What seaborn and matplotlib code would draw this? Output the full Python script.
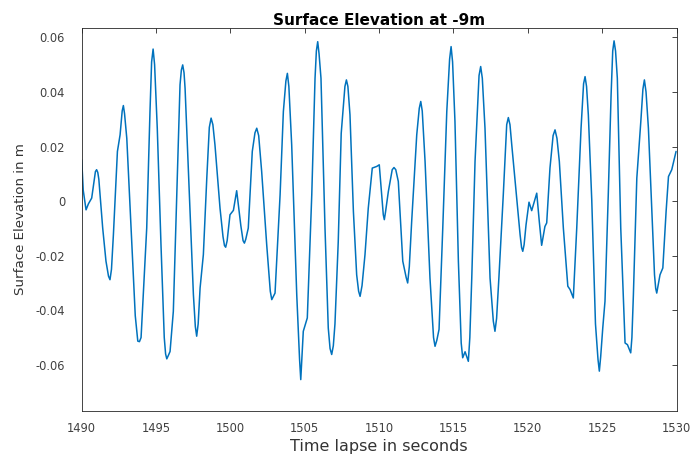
import numpy as np
import pandas as pd
import matplotlib
matplotlib.use("Agg")
import matplotlib.pyplot as plt
import seaborn as sns

time_s = [
    1490.00, 1490.10, 1490.29, 1490.45, 1490.67, 1490.85, 1490.92, 1491.00, 1491.08, 1491.15,
    1491.41, 1491.63, 1491.80, 1491.90, 1492.00, 1492.13, 1492.40, 1492.58, 1492.72, 1492.80,
    1492.88, 1493.03, 1493.36, 1493.60, 1493.77, 1493.88, 1493.99, 1494.37, 1494.59, 1494.70,
    1494.80, 1494.90, 1495.08, 1495.33, 1495.55, 1495.64, 1495.72, 1495.83, 1495.94, 1496.16,
    1496.39, 1496.61, 1496.70, 1496.79, 1496.88, 1496.95, 1497.22, 1497.51, 1497.64, 1497.73,
    1497.83, 1497.96, 1498.18, 1498.41, 1498.58, 1498.70, 1498.82, 1498.96, 1499.30, 1499.50,
    1499.60, 1499.68, 1499.78, 1499.97, 1500.20, 1500.42, 1500.70, 1500.85, 1500.94, 1501.03,
    1501.20, 1501.47, 1501.65, 1501.77, 1501.90, 1502.10, 1502.44, 1502.68, 1502.78, 1503.00,
    1503.34, 1503.56, 1503.73, 1503.83, 1503.93, 1504.12, 1504.46, 1504.65, 1504.73, 1504.90,
    1505.17, 1505.47, 1505.69, 1505.78, 1505.87, 1505.96, 1506.09, 1506.36, 1506.58, 1506.70,
    1506.81, 1506.92, 1507.03, 1507.25, 1507.45, 1507.70, 1507.80, 1507.90, 1508.04, 1508.27,
    1508.49, 1508.62, 1508.72, 1508.85, 1509.05, 1509.27, 1509.54, 1509.84, 1510.01, 1510.28,
    1510.35, 1510.43, 1510.62, 1510.88, 1511.00, 1511.12, 1511.29, 1511.59, 1511.82, 1511.92,
    1512.03, 1512.19, 1512.53, 1512.70, 1512.80, 1512.90, 1513.09, 1513.42, 1513.66, 1513.76,
    1513.88, 1514.03, 1514.28, 1514.55, 1514.74, 1514.84, 1514.94, 1515.10, 1515.33, 1515.52,
    1515.62, 1515.78, 1516.00, 1516.10, 1516.23, 1516.45, 1516.72, 1516.83, 1516.94, 1517.12,
    1517.46, 1517.68, 1517.79, 1517.90, 1518.06, 1518.35, 1518.58, 1518.69, 1518.80, 1518.92,
    1519.25, 1519.48, 1519.58, 1519.66, 1519.75, 1519.88, 1520.08, 1520.26, 1520.60, 1520.77,
    1520.93, 1521.15, 1521.27, 1521.49, 1521.70, 1521.83, 1521.96, 1522.12, 1522.39, 1522.69,
    1522.84, 1523.06, 1523.29, 1523.58, 1523.75, 1523.85, 1523.95, 1524.07, 1524.30, 1524.55,
    1524.72, 1524.81, 1524.90, 1525.04, 1525.19, 1525.41, 1525.60, 1525.71, 1525.80, 1525.90,
    1526.02, 1526.25, 1526.54, 1526.70, 1526.92, 1527.00, 1527.10, 1527.33, 1527.60, 1527.74,
    1527.84, 1527.95, 1528.11, 1528.34, 1528.52, 1528.60, 1528.67, 1528.76, 1528.89, 1529.08,
    1529.30, 1529.46, 1529.68, 1529.97,
]
elevation_m = [
    0.0151, 0.0040, -0.0032, -0.0010, 0.0011, 0.0080, 0.0108, 0.0115, 0.0105, 0.0080,
    -0.0099, -0.0220, -0.0275, -0.0288, -0.0250, -0.0123, 0.0182, 0.0243, 0.0330, 0.0350,
    0.0320, 0.0230, -0.0148, -0.0420, -0.0513, -0.0515, -0.0500, -0.0099, 0.0328, 0.0510,
    0.0557, 0.0500, 0.0267, -0.0160, -0.0500, -0.0560, -0.0578, -0.0565, -0.0551, -0.0404,
    0.0023, 0.0426, 0.0480, 0.0499, 0.0470, 0.0413, 0.0048, -0.0343, -0.0460, -0.0495,
    -0.0450, -0.0318, -0.0196, 0.0084, 0.0270, 0.0304, 0.0280, 0.0206, -0.0026, -0.0130,
    -0.0163, -0.0169, -0.0145, -0.0050, -0.0034, 0.0038, -0.0090, -0.0145, -0.0154, -0.0140,
    -0.0099, 0.0182, 0.0250, 0.0267, 0.0240, 0.0109, -0.0160, -0.0330, -0.0361, -0.0337,
    0.0023, 0.0328, 0.0440, 0.0468, 0.0420, 0.0206, -0.0343, -0.0580, -0.0654, -0.0477,
    -0.0428, 0.0023, 0.0450, 0.0550, 0.0584, 0.0540, 0.0450, -0.0099, -0.0465, -0.0540,
    -0.0562, -0.0530, -0.0450, -0.0150, 0.0248, 0.0420, 0.0444, 0.0420, 0.0316, -0.0038,
    -0.0270, -0.0330, -0.0349, -0.0310, -0.0196, -0.0026, 0.0121, 0.0127, 0.0133, -0.0050,
    -0.0068, -0.0040, 0.0035, 0.0115, 0.0123, 0.0115, 0.0072, -0.0220, -0.0280, -0.0300,
    -0.0240, -0.0074, 0.0243, 0.0340, 0.0365, 0.0330, 0.0145, -0.0282, -0.0500, -0.0532,
    -0.0510, -0.0470, -0.0099, 0.0328, 0.0520, 0.0566, 0.0510, 0.0292, -0.0220, -0.0520,
    -0.0574, -0.0552, -0.0587, -0.0500, -0.0282, 0.0145, 0.0460, 0.0493, 0.0450, 0.0267,
    -0.0282, -0.0440, -0.0477, -0.0430, -0.0276, 0.0023, 0.0280, 0.0306, 0.0280, 0.0206,
    0.0011, -0.0123, -0.0170, -0.0184, -0.0160, -0.0087, -0.0004, -0.0035, 0.0029, -0.0074,
    -0.0162, -0.0093, -0.0080, 0.0121, 0.0240, 0.0261, 0.0230, 0.0145, -0.0099, -0.0312,
    -0.0324, -0.0355, -0.0099, 0.0267, 0.0430, 0.0456, 0.0420, 0.0316, 0.0004, -0.0450,
    -0.0580, -0.0623, -0.0570, -0.0465, -0.0367, 0.0023, 0.0389, 0.0550, 0.0587, 0.0550,
    0.0450, -0.0099, -0.0520, -0.0526, -0.0556, -0.0500, -0.0343, 0.0084, 0.0292, 0.0410,
    0.0444, 0.0400, 0.0267, -0.0038, -0.0270, -0.0320, -0.0337, -0.0310, -0.0270, -0.0245,
    -0.0038, 0.0090, 0.0115, 0.0182,
]
x_ticks = [1490, 1495, 1500, 1505, 1510, 1515, 1520, 1525, 1530]
y_ticks = [-0.06, -0.04, -0.02, 0, 0.02, 0.04, 0.06]
y_tick_labels = ["-0.06", "-0.04", "-0.02", "0", "0.02", "0.04", "0.06"]

sns.set_style("white")
plt.rcParams["font.family"] = ["DejaVu Sans"]
plt.rcParams["axes.unicode_minus"] = False

df = pd.DataFrame({"t": time_s, "eta": elevation_m})

fig = plt.figure(figsize=(6.95, 4.59), dpi=100)
ax = fig.add_axes([0.1176, 0.1052, 0.8558, 0.8331])
sns.lineplot(data=df, x="t", y="eta", ax=ax, color="#0072BD", linewidth=1.1)

ax.set_xlim(1490, 1530)
ax.set_ylim(-0.0768, 0.0633)
ax.set_xticks(x_ticks)
ax.set_xticklabels([str(v) for v in x_ticks])
ax.set_yticks(y_ticks)
ax.set_yticklabels(y_tick_labels)

gray = "#262626"
ax.tick_params(direction="in", length=3.5, width=0.6, colors=gray,
               labelsize=8.3, top=True, right=True, labelcolor="#404040")
ax.tick_params(axis="y", pad=12)
ax.tick_params(axis="x", pad=8)
for s in ax.spines.values():
    s.set_color(gray)
    s.set_linewidth(0.6)

ax.set_title("Surface Elevation at -9m", fontsize=11, fontweight="bold", color="black", pad=2.5)
ax.set_xlabel("Time lapse in seconds", fontsize=11.5, color="#333333", labelpad=3)
ax.set_ylabel("Surface Elevation in m", fontsize=9.6, color="#333333", labelpad=6)

fig.savefig("out.png", dpi=100)
